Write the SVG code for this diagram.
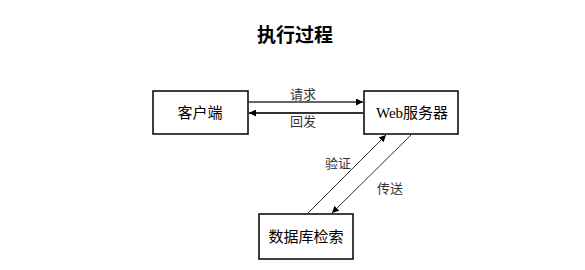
<svg xmlns="http://www.w3.org/2000/svg" width="585" height="270" viewBox="0 0 585 270">
<style>
.box{fill:#fff;stroke:#000;stroke-width:1.5}
.t{font-family:"Liberation Serif","Noto Sans CJK SC",serif;font-size:15px;fill:#000;text-anchor:middle}
.l{font-family:"Liberation Serif","Noto Sans CJK SC",serif;font-size:13px;fill:#333;text-anchor:middle}
.c{stroke:#333;fill:none}
</style>
<defs>
<marker id="ah" viewBox="0 0 10 10" refX="10" refY="5" markerWidth="7" markerHeight="7" markerUnits="userSpaceOnUse" orient="auto"><path d="M0,0 L10,5 L0,10 z" fill="#000"/></marker>
</defs>
<rect width="585" height="270" fill="#fff"/>
<text x="295" y="42" font-family="'Noto Sans CJK SC',sans-serif" font-size="19" font-weight="bold" text-anchor="middle">执行过程</text>
<g id="client"><rect class="box" x="153" y="91" width="95" height="43"/><text class="t" x="200" y="118">客户端</text></g>
<g id="web"><rect class="box" x="364" y="91" width="94" height="43"/><text class="t" x="412" y="118">Web服务器</text></g>
<g id="db"><rect class="box" x="259" y="214" width="94" height="45"/><text class="t" x="306" y="242">数据库检索</text></g>
<g id="connectors">
<line class="c" x1="248" y1="102" x2="363" y2="102" stroke-width="1.5" marker-end="url(#ah)"/>
<line class="c" x1="364" y1="113" x2="249" y2="113" stroke-width="2" marker-end="url(#ah)"/>
<line class="c" x1="307" y1="214" x2="386" y2="135" stroke-width="1" marker-end="url(#ah)"/>
<line class="c" x1="412" y1="134" x2="332" y2="213" stroke-width="1" marker-end="url(#ah)"/>
<text class="l" x="303" y="99">请求</text>
<text class="l" x="303" y="126">回发</text>
<text class="l" x="338" y="168">验证</text>
<text class="l" x="390" y="193">传送</text>
</g>
</svg>
